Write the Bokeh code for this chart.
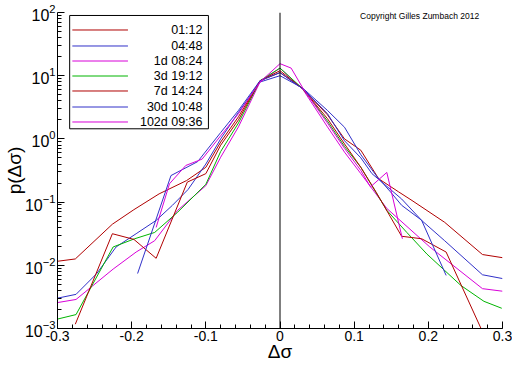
from bokeh.plotting import figure
from bokeh.models import Label, BoxAnnotation, Span, FixedTicker
from bokeh.embed import file_html
from bokeh.resources import INLINE

# ---- data ----
names = ["01:12", "04:48", "1d 08:24", "3d 19:12", "7d 14:24", "30d 10:48", "102d 09:36"]
colors = ["#b00000", "#3030c8", "#d800d8", "#00b400", "#b00000", "#3030c8", "#d800d8"]

x_0112 = [-0.302, -0.276, -0.226, -0.197, -0.163, -0.126, -0.10, -0.08, -0.056, -0.027, 0.0,
          0.031, 0.064, 0.087, 0.109, 0.133, 0.160, 0.178, 0.222, 0.273, 0.300]
p_0112 = [0.0115, 0.0126, 0.0447, 0.0759, 0.135, 0.219, 0.355, 0.891, 2.24, 8.32, 11.2,
          6.17, 2.40, 1.0, 0.661, 0.234, 0.145, 0.106, 0.0479, 0.0148, 0.0132]

x_0448 = [-0.300, -0.275, -0.247, -0.221, -0.194, -0.167, -0.145, -0.124, -0.10, -0.08, -0.056,
          -0.027, 0.0, 0.031, 0.064, 0.087, 0.109, 0.131, 0.149, 0.164, 0.189, 0.222, 0.273, 0.300]
p_0448 = [0.00302, 0.00347, 0.00741, 0.0195, 0.0316, 0.0513, 0.0891, 0.158, 0.40, 1.0, 2.63,
          7.94, 10.0, 6.31, 2.82, 1.53, 0.562, 0.251, 0.145, 0.0891, 0.0537, 0.0245, 0.00708, 0.00617]

x_1d = [-0.300, -0.275, -0.225, -0.194, -0.169, -0.138, -0.10, -0.08, -0.056, -0.027, 0.0,
        0.031, 0.064, 0.087, 0.109, 0.144, 0.202, 0.273, 0.300]
p_1d = [0.00257, 0.00288, 0.00871, 0.0162, 0.0245, 0.0741, 0.182, 0.513, 1.55, 7.94, 13.2,
        6.03, 1.55, 0.617, 0.282, 0.0794, 0.0195, 0.00427, 0.00389]

x_3d = [-0.300, -0.275, -0.225, -0.196, -0.169, -0.138, -0.10, -0.08, -0.056, -0.027, 0.0,
        0.031, 0.064, 0.087, 0.109, 0.144, 0.171, 0.198, 0.244, 0.275, 0.299]
p_3d = [0.00141, 0.00166, 0.0195, 0.0263, 0.0331, 0.0692, 0.191, 0.631, 1.78, 8.32, 13.2,
        6.17, 1.91, 0.759, 0.355, 0.0741, 0.0331, 0.0151, 0.00479, 0.00269, 0.00209]

x_7d = [-0.276, -0.226, -0.197, -0.167, -0.125, -0.10, -0.08, -0.056, -0.027, 0.0,
        0.031, 0.064, 0.087, 0.109, 0.13, 0.164, 0.191, 0.224, 0.273]
p_7d = [0.00117, 0.0316, 0.0257, 0.0129, 0.207, 0.282, 0.794, 2.0, 8.32, 12.0,
        6.17, 2.09, 0.832, 0.355, 0.141, 0.0288, 0.0263, 0.0162, 0.000891]

x_30d = [-0.192, -0.147, -0.111, -0.08, -0.056, -0.027, 0.0, 0.031, 0.064, 0.087,
         0.109, 0.124, 0.164, 0.191, 0.224]
p_30d = [0.00741, 0.263, 0.437, 1.26, 2.82, 8.32, 11.2, 6.17, 2.51, 0.933,
         0.501, 0.282, 0.112, 0.0513, 0.00692]

x_102d = [-0.167, -0.149, -0.127, -0.105, -0.08, -0.056, -0.027, 0.0, 0.015, 0.031,
          0.064, 0.087, 0.109, 0.122, 0.144, 0.165]
p_102d = [0.0398, 0.195, 0.380, 0.479, 1.12, 2.51, 7.94, 15.5, 13.2, 6.31,
          1.78, 0.708, 0.316, 0.174, 0.295, 0.0263]

xs = [x_0112, x_0448, x_1d, x_3d, x_7d, x_30d, x_102d]
ps = [p_0112, p_0448, p_1d, p_3d, p_7d, p_30d, p_102d]

x_ticks = [-0.3, -0.2, -0.1, 0, 0.1, 0.2, 0.3]
x_tick_labels = ["-0.3", "-0.2", "-0.1", "0", "0.1", "0.2", "0.3"]
y_ticks = [1e-3, 1e-2, 1e-1, 1e0, 1e1, 1e2]

FONT = "Liberation Sans"

p = figure(width=512, height=366, x_range=(-0.3, 0.3), y_range=(1e-3, 1e2),
           y_axis_type="log", output_backend="svg", toolbar_location=None,
           min_border_left=52, min_border_right=10, min_border_top=12, min_border_bottom=38)
p.outline_line_color = None
p.xgrid.visible = False
p.ygrid.visible = False
p.background_fill_color = "white"

# legend box below the curves
p.add_layout(BoxAnnotation(left=-0.2836, right=-0.0965, top=89.7, bottom=1.445,
                           fill_color="white", fill_alpha=1.0, line_color="black",
                           line_alpha=1.0, line_width=1, level="underlay"))

for x, y, c in zip(xs, ps, colors):
    p.line(x, y, line_color=c, line_width=1)

p.add_layout(Span(location=0, dimension="height", line_color="black", line_width=1))

# axes
minor_x = [round(-0.3 + 0.02 * i, 2) for i in range(31)]
p.xaxis.ticker = FixedTicker(ticks=x_ticks, minor_ticks=minor_x)
p.xaxis.major_label_overrides = {t: l for t, l in zip(x_ticks, x_tick_labels)}
minor_y = [k * 10.0 ** e for e in range(-3, 2) for k in range(2, 10)]
p.yaxis.ticker = FixedTicker(ticks=y_ticks, minor_ticks=minor_y)
for ax in (p.xaxis[0], p.yaxis[0]):
    ax.axis_line_color = "black"
    ax.major_tick_line_color = "black"
    ax.minor_tick_line_color = "black"
    ax.major_tick_in = 7
    ax.major_tick_out = 0
    ax.minor_tick_in = 4
    ax.minor_tick_out = 0
    ax.major_label_text_font = FONT
    ax.major_label_text_color = "black"
    ax.axis_label_text_font = FONT
    ax.axis_label_text_font_style = "normal"
    ax.axis_label_text_color = "black"
p.xaxis.major_label_text_font_size = "14px"
p.xaxis.major_label_standoff = 2
p.xaxis.axis_label_standoff = -3
p.yaxis.major_label_text_font_size = "16px"
p.yaxis.major_label_standoff = 2
p.yaxis.axis_label_standoff = -3
p.xaxis.axis_label = "Δσ"
p.xaxis.axis_label_text_font_size = "19px"
p.yaxis.axis_label = "p(Δσ)"
p.yaxis.axis_label_text_font_size = "19px"

# copyright
p.add_layout(Label(x=0.108, y=87.3, text="Copyright Gilles Zumbach 2012", text_font=FONT,
                   text_font_size="8.5px", text_baseline="middle", text_color="black"))

# legend entries (drawn by hand to get right-aligned labels)
row_y = [52.86, 29.51, 17.08, 9.89, 5.73, 3.197, 1.851]
n = len(names)
p.segment(x0=[-0.280] * n, x1=[-0.205] * n, y0=row_y, y1=row_y, line_color=colors, line_width=1)
for name, ry in zip(names, row_y):
    p.add_layout(Label(x=-0.1045, y=ry, text=name, text_font=FONT, text_font_size="12.5px",
                       text_align="right", text_baseline="middle", text_color="black"))

open("out.html", "w").write(file_html(p, INLINE))
